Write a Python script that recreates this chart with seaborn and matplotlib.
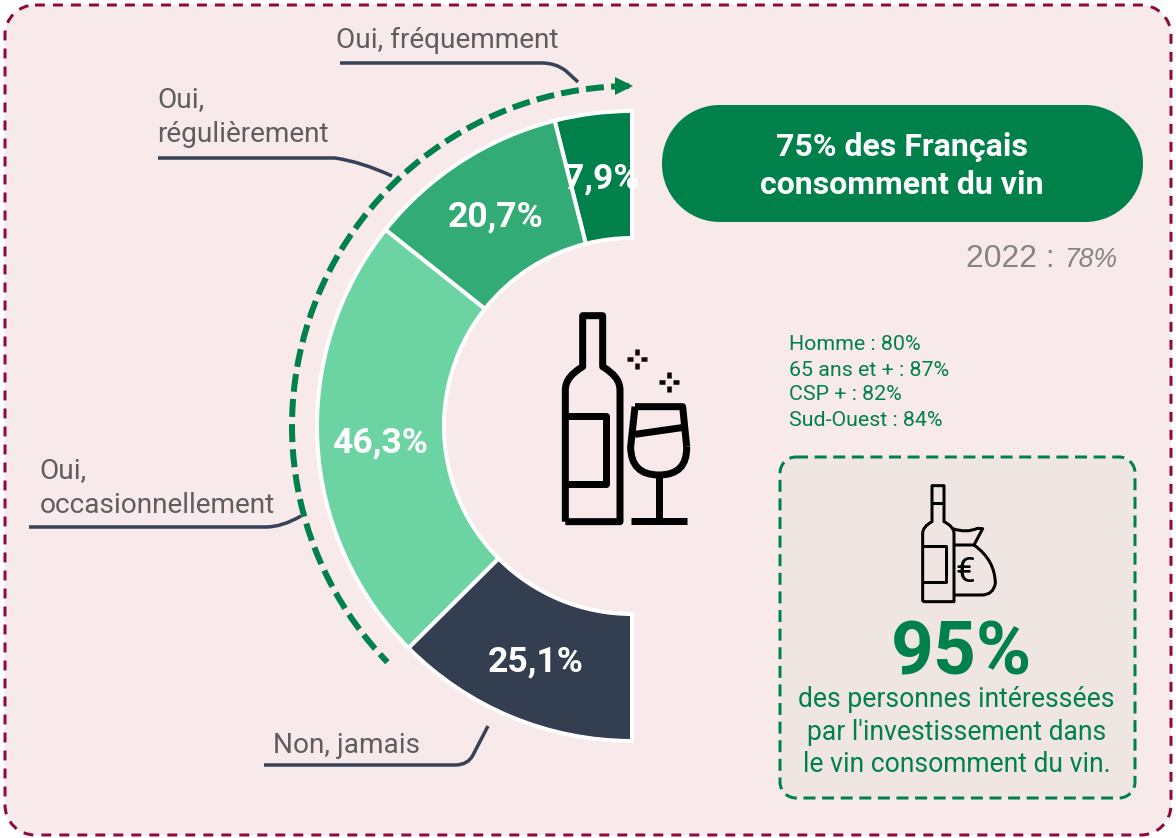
import numpy as np
import matplotlib
matplotlib.use("Agg")
import matplotlib.pyplot as plt
from matplotlib.patches import Arc, PathPatch, Polygon
from matplotlib.path import Path
import seaborn as sns

categories = ["Oui, fréquemment", "Oui,\nrégulièrement", "Oui,\noccasionnellement", "Non, jamais"]
shares = [7.9, 20.7, 46.3, 25.1]
share_labels = ["7,9%", "20,7%", "46,3%", "25,1%"]
colours = ["#00804A", "#33AB77", "#6BD4A2", "#333E50"]
stats = ["Homme : 80%", "65 ans et + : 87%", "CSP + : 82%", "Sud-Ouest : 84%"]
headline = ["75% des Français", "consomment du vin"]
box_text = ["des personnes intéressées", "par l'investissement dans", "le vin consomment du vin."]

W, H = 1176, 838
GREEN, NAVY, GREY = "#00804A", "#374259", "#5E5E5E"
sns.set_theme(style="white")
plt.rcParams["font.family"] = ["Roboto", "DejaVu Sans"]

fig = plt.figure(figsize=(W / 100, H / 100), dpi=100, facecolor="white")
ax = fig.add_axes([0, 0, 1, 1])
Y = lambda py: H - py
px = lambda p: p * 0.72
CX, CY, R, r = 632, 426, 315, 188

def rbox(x0, y0, x1, y1, rad, **kw):
    # rounded rectangle with true circular corners
    k = rad * (1 - 0.5523)
    b, t = Y(y1), Y(y0)
    verts = [(x0 + rad, t), (x1 - rad, t), (x1 - k, t), (x1, t - k), (x1, t - rad),
             (x1, b + rad), (x1, b + k), (x1 - k, b), (x1 - rad, b),
             (x0 + rad, b), (x0 + k, b), (x0, b + k), (x0, b + rad),
             (x0, t - rad), (x0, t - k), (x0 + k, t), (x0 + rad, t)]
    c4 = Path.CURVE4
    codes = [Path.MOVETO, Path.LINETO, c4, c4, c4, Path.LINETO, c4, c4, c4,
             Path.LINETO, c4, c4, c4, Path.LINETO, c4, c4, c4]
    ax.add_patch(PathPatch(Path(verts, codes), **kw))

rbox(5, 5, 1171, 835, 30, fc="#F8EAEA", ec="#8E0B37", lw=px(3),
     ls=(0, (3.3, 2.7)), zorder=0)
rbox(780, 457, 1135, 798, 16, fc="#EFE6E4", ec=GREEN, lw=px(3),
     ls=(0, (4.0, 2.2)), zorder=0)
rbox(662, 105, 1143, 222, 58, fc=GREEN, ec="none", zorder=1)

# half doughnut
wedges, _ = ax.pie(shares + [sum(shares)], colors=sns.color_palette(colours) + ["white"],
                   startangle=90, counterclock=True, radius=R, center=(CX, Y(CY)),
                   frame=True,
                   wedgeprops=dict(width=R - r, edgecolor="white", linewidth=px(4)))
wedges[-1].set_visible(False)
ax.set_xlim(0, W)
ax.set_ylim(0, H)
ax.set_aspect("auto")
ax.axis("off")

label_pos = [(602, 179), (495.5, 217), (380.5, 443), (536, 662)]
for (x, y), s in zip(label_pos, share_labels):
    ax.text(x, Y(y), s, color="white", fontsize=px(35.5), fontweight="bold",
            ha="center", va="center", zorder=5)

# dashed arc and arrow
ax.add_patch(Arc((CX, Y(CY)), 680, 680, theta1=90.5, theta2=224, color=GREEN, lw=px(6),
                 ls=(0, (3.0, 1.2)), zorder=3))
ax.add_patch(Polygon([(633, Y(86)), (615, Y(77)), (615, Y(95))], fc=GREEN, ec="none", zorder=3))

# leaders
def stroke(pts, codes=None, color=NAVY, lw=3.5, cap="butt", z=4):
    if codes is None:
        codes = [Path.MOVETO] + [Path.LINETO] * (len(pts) - 1)
    ax.add_patch(PathPatch(Path([(x, Y(y)) for x, y in pts], codes), fc="none", ec=color,
                           lw=px(lw), capstyle=cap, joinstyle="round", zorder=z))

M, L, C = Path.MOVETO, Path.LINETO, Path.CURVE3
stroke([(340, 63), (542, 63), (556, 63), (566, 71), (578, 82)], [M, L, C, C, L])
stroke([(158, 158), (335, 158), (362, 162), (392, 176)], [M, L, C, C])
stroke([(29, 527), (266, 527), (282, 527), (301, 516)], [M, L, C, C])
stroke([(264, 765), (455, 765), (468, 765), (473, 755), (488, 726)], [M, L, C, C, L])

label_text = [(336, 40, categories[0]), (157.5, 117, categories[1]),
              (39.5, 488, categories[2]), (273, 745, categories[3])]
for x, y, s in label_text:
    ax.text(x, Y(y), s, color=GREY, fontsize=px(28), ha="left", va="center",
            linespacing=1.4, zorder=5)

# headline
for y, s in zip((147, 185), headline):
    ax.text(902, Y(y), s, color="white", fontsize=px(32), fontweight="bold",
            ha="center", va="center", zorder=5)
ax.text(966, Y(259), "2022 : ", color="#858585", fontsize=px(31.8), family="Liberation Sans",
        ha="left", va="center", zorder=5)
ax.text(1064, Y(260), "78%", color="#858585", fontsize=px(26.5), family="Liberation Sans",
        style="italic", ha="left", va="center", zorder=5)

for y, s in zip((344, 370, 395, 421), stats):
    ax.text(789, Y(y), s, color=GREEN, fontsize=px(21.4), ha="left", va="center", zorder=5)

ax.text(962, Y(654), "95%", color=GREEN, fontsize=px(75), fontweight="bold",
        ha="center", va="center", zorder=5)
for y, s in zip((699, 732, 764), box_text):
    ax.text(956.5, Y(y), s, color=GREEN, fontsize=px(26.5), ha="center", va="center", zorder=5)

# large icon
def big(pts, ox=540, oy=300, s=3):
    return [(ox + a / s, oy + b / s) for a, b in pts]

K = "black"
stroke(big([(76, 665), (76, 270), (76, 230), (128, 200), (128, 47), (188, 47), (188, 200),
            (240, 230), (240, 270), (240, 665), (76, 665)]),
       [M, L, C, C, L, L, L, C, C, L, L], K, 7)
stroke(big([(76, 347), (198, 347), (198, 552), (76, 552)]), None, K, 7)
stroke(big([(285, 320), (428, 320), (440, 440)]), None, K, 7)
stroke(big([(285, 320), (272, 440), (272, 525), (357, 525), (442, 525), (440, 440)]),
       [M, L, C, C, C, C], K, 7)
stroke(big([(285, 403), (425, 383)]), None, K, 7)
stroke(big([(357, 525), (357, 665)]), None, K, 7)
stroke(big([(272, 663), (442, 663)]), None, K, 7)
for cx, cy in ((291, 176), (386, 246)):
    for seg in (((cx, cy - 30), (cx, cy - 12)), ((cx, cy + 12), (cx, cy + 30)),
                ((cx - 30, cy), (cx - 12, cy)), ((cx + 12, cy), (cx + 30, cy))):
        stroke(big(list(seg)), None, "#1A0008" if cx == 291 else K, 4.5)

# small icon
def small(pts):
    return big(pts, 770, 450, 3)

stroke(small([(458, 455), (458, 250), (458, 230), (486, 215), (486, 107), (522, 107), (522, 215),
              (552, 230), (552, 250), (552, 455), (458, 455)]),
       [M, L, C, C, L, L, L, C, C, L, L], K, 3)
stroke(small([(486, 160), (522, 160)]), None, K, 3)
stroke(small([(458, 288), (527, 288), (527, 397), (458, 397)]), None, K, 3)
stroke(small([(548, 236), (590, 250), (622, 235), (638, 236), (612, 285), (555, 285)]),
       [M, C, C, L, L, L], K, 3)
stroke(small([(612, 285), (675, 330), (676, 400), (670, 435), (635, 435), (552, 435)]),
       [M, C, C, C, C, L], K, 3)
ax.text(770 + 585 / 3, Y(450 + 367 / 3), "€", color=K, fontsize=px(35), ha="center",
        va="center", zorder=5)

fig.savefig("out.png", dpi=100, facecolor="white")
